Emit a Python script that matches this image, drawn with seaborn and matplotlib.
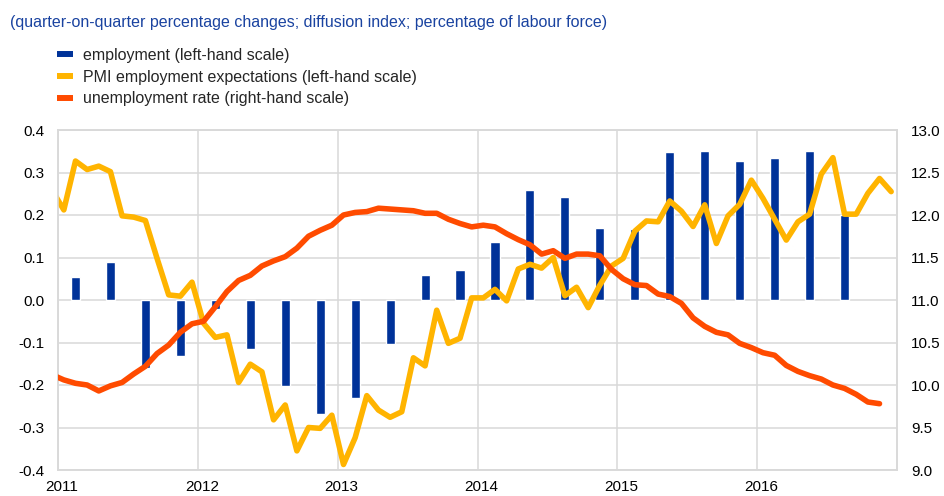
import numpy as np
import pandas as pd
import matplotlib
matplotlib.use("Agg")
import matplotlib.pyplot as plt
import matplotlib.transforms as mtransforms
from matplotlib.lines import Line2D
import seaborn as sns

# ---------------- data ----------------
quarters = pd.period_range("2011Q1", "2016Q3", freq="Q")
employment = [0.055, 0.089, -0.161, -0.132,
              -0.021, -0.115, -0.202, -0.269,
              -0.231, -0.104, 0.059, 0.070,
              0.136, 0.260, 0.242, 0.170,
              0.166, 0.349, 0.350, 0.327,
              0.335, 0.351, 0.200]

pmi_months = pd.period_range("2010-12", "2016-12", freq="M")
pmi = [0.258,
       0.212, 0.327, 0.307, 0.315, 0.302, 0.198, 0.195, 0.187, 0.098, 0.012, 0.009, 0.042,
       -0.055, -0.088, -0.082, -0.194, -0.151, -0.169, -0.282, -0.247, -0.355, -0.300, -0.302, -0.271,
       -0.387, -0.324, -0.225, -0.259, -0.276, -0.263, -0.136, -0.155, -0.024, -0.102, -0.090, 0.005,
       0.005, 0.025, -0.002, 0.073, 0.084, 0.075, 0.100, 0.010, 0.030, -0.018, 0.035, 0.080,
       0.098, 0.162, 0.186, 0.184, 0.233, 0.209, 0.173, 0.224, 0.133, 0.198, 0.225, 0.282,
       0.239, 0.190, 0.141, 0.184, 0.202, 0.296, 0.335, 0.202, 0.202, 0.251, 0.286, 0.255]

unemp_months = pd.period_range("2010-12", "2016-11", freq="M")
unemployment = [10.12,
                10.06, 10.02, 10.00, 9.93, 9.99, 10.03, 10.13, 10.22, 10.37, 10.47, 10.62, 10.72,
                10.75, 10.92, 11.10, 11.23, 11.29, 11.40, 11.46, 11.51, 11.61, 11.75, 11.82, 11.88,
                12.00, 12.03, 12.04, 12.08, 12.07, 12.06, 12.05, 12.02, 12.02, 11.95, 11.90, 11.86,
                11.88, 11.86, 11.78, 11.71, 11.65, 11.54, 11.58, 11.49, 11.54, 11.54, 11.52, 11.36,
                11.25, 11.18, 11.17, 11.07, 11.04, 10.96, 10.79, 10.69, 10.62, 10.59, 10.49, 10.44,
                10.38, 10.35, 10.23, 10.16, 10.11, 10.07, 10.00, 9.96, 9.89, 9.80, 9.78]

years = [2011, 2012, 2013, 2014, 2015, 2016]
left_ticks = [-0.4, -0.3, -0.2, -0.1, 0.0, 0.1, 0.2, 0.3, 0.4]
right_ticks = [9.0, 9.5, 10.0, 10.5, 11.0, 11.5, 12.0, 12.5, 13.0]

title = "(quarter-on-quarter percentage changes; diffusion index; percentage of labour force)"
labels = ["employment (left-hand scale)",
          "PMI employment expectations (left-hand scale)",
          "unemployment rate (right-hand scale)"]

BLUE = "#003299"
TITLE_BLUE = "#1A43A0"
YELLOW = "#FFB400"
ORANGE = "#FF4B00"
GRID = "#D9D9D9"

# decimal-year positions (middle of each period)
q_x = np.array([p.year + (p.quarter - 0.5) / 4 for p in quarters])
pmi_x = np.array([p.year + (p.month - 0.5) / 12 for p in pmi_months])
u_x = np.array([p.year + (p.month - 0.5) / 12 for p in unemp_months])

# ---------------- style ----------------
sns.set_theme(style="white")
plt.rcParams["font.family"] = ["Liberation Sans", "DejaVu Sans"]

fig = plt.figure(figsize=(9.44, 4.96), dpi=100)
W, H = 944, 496
ax = fig.add_axes([58 / W, 26 / H, (897 - 58) / W, (470 - 130) / H])

sns.barplot(x=q_x, y=employment, native_scale=True, width=0.26, color=BLUE,
            saturation=1, errorbar=None, ax=ax, zorder=2)
sns.lineplot(x=pmi_x, y=pmi, color=YELLOW, linewidth=4, ax=ax, zorder=3,
             solid_joinstyle="round", solid_capstyle="round")

ax.set_xlim(2011, 2017)
ax.set_ylim(-0.4, 0.4)
ax.set_yticks(left_ticks)
ax.set_yticklabels([f"{v:.1f}" for v in left_ticks])
ax.set_xticks(years)
ax.set_xticklabels([str(y) for y in years])
ax.set_xlabel("")
ax.set_ylabel("")
ax.set_axisbelow(True)
ax.grid(True, color=GRID, linewidth=1.1)
for s in ax.spines.values():
    s.set_color(GRID)
    s.set_linewidth(1.1)
ax.tick_params(axis="y", length=0, labelsize=11, pad=10, labelcolor="#000000")
ax.tick_params(axis="x", length=0, labelsize=11, pad=7, labelcolor="#000000")
offset = mtransforms.ScaledTranslation(4 / 100, 0, fig.dpi_scale_trans)
for lab in ax.get_xticklabels():
    lab.set_transform(lab.get_transform() + offset)

ax2 = ax.twinx()
sns.lineplot(x=u_x, y=unemployment, color=ORANGE, linewidth=4, ax=ax2, zorder=3,
             solid_joinstyle="round", solid_capstyle="round")
ax2.set_ylim(9.0, 13.0)
ax2.set_yticks(right_ticks)
ax2.set_yticklabels([f"{v:.1f}" for v in right_ticks])
ax2.set_ylabel("")
ax2.grid(False)
for s in ax2.spines.values():
    s.set_color(GRID)
    s.set_linewidth(1.1)
ax2.tick_params(axis="y", length=0, labelsize=11, pad=10, labelcolor="#000000")
ax2.set_xlim(2011, 2017)

fig.text(10 / W, 1 - 22 / H, title, color=TITLE_BLUE, fontsize=11.5, va="center", ha="left")

handles = [Line2D([0], [0], color=c, lw=4.3, solid_capstyle="butt")
           for c in (BLUE, YELLOW, ORANGE)]
fig.legend(handles, labels, loc="upper left", bbox_to_anchor=(57 / W, 1 - 48 / H),
           frameon=False, fontsize=11.5, handlelength=1.0, handletextpad=0.62,
           labelspacing=0.42, borderpad=0, borderaxespad=0)

fig.savefig("out.png", dpi=100)
